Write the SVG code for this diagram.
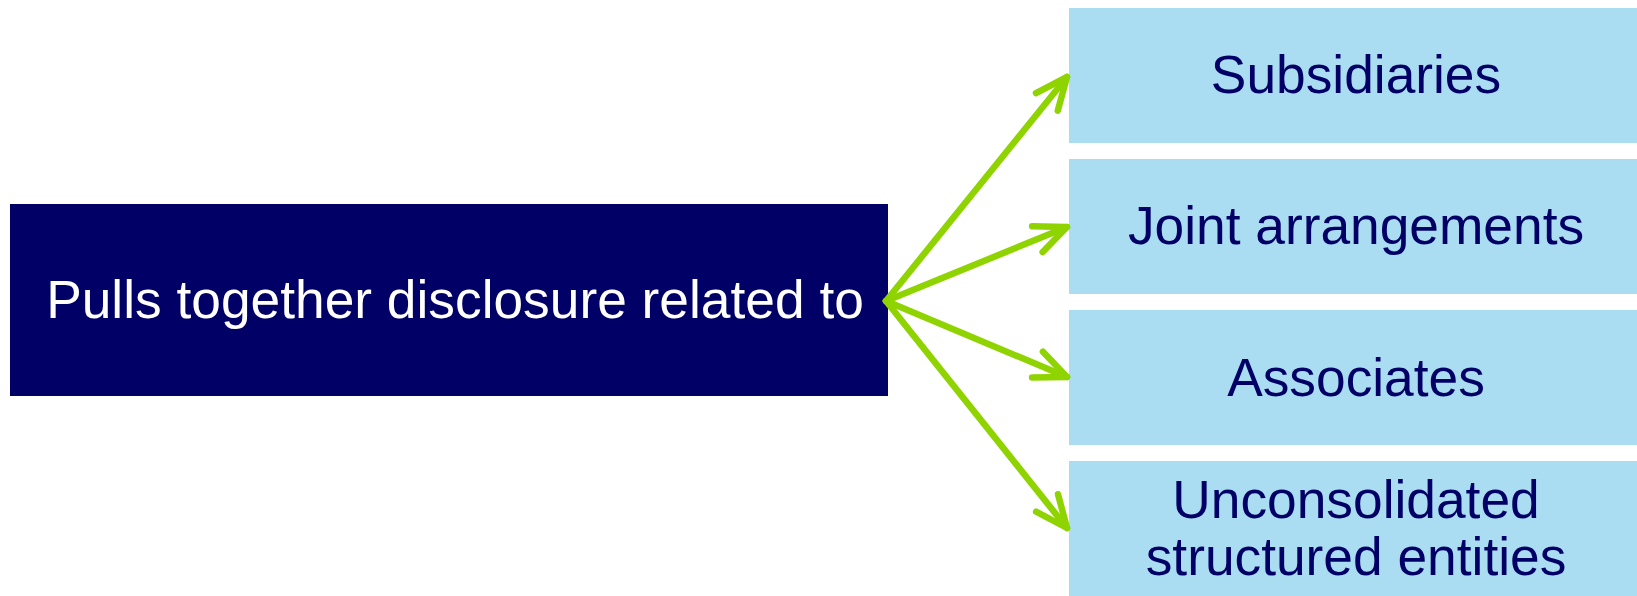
<svg xmlns="http://www.w3.org/2000/svg" width="1637" height="596" viewBox="0 0 1637 596">
<defs>
<style>
.src{fill:#000066}
.dst{fill:#AADDF2}
.t{font-family:"Liberation Sans",Arial,sans-serif;font-size:53.3px;text-anchor:middle}
.tw{fill:#FFFFFF}
.tn{fill:#000066}
.arrow{stroke:#8FD400;stroke-width:6.5;fill:none;stroke-linecap:round}
</style>
<marker id="ah" markerUnits="userSpaceOnUse" markerWidth="50" markerHeight="50" refX="0" refY="0" viewBox="-40 -25 50 50" orient="auto">
<path d="M -32 -14 L 0 0 L -32 14" fill="none" stroke="#8FD400" stroke-width="6.5" stroke-linecap="round" stroke-linejoin="round"/>
</marker>
</defs>
<g id="node-source">
<rect class="src" x="10" y="204" width="878" height="192"/>
<text class="t tw" x="455" y="318">Pulls together disclosure related to</text>
</g>
<g id="node-subsidiaries">
<rect class="dst" x="1069" y="8" width="568" height="135"/>
<text class="t tn" x="1356" y="93">Subsidiaries</text>
</g>
<g id="node-joint">
<rect class="dst" x="1069" y="159" width="568" height="135"/>
<text class="t tn" x="1356" y="244">Joint arrangements</text>
</g>
<g id="node-associates">
<rect class="dst" x="1069" y="310" width="568" height="135"/>
<text class="t tn" x="1356" y="396">Associates</text>
</g>
<g id="node-unconsolidated">
<rect class="dst" x="1069" y="461" width="568" height="135"/>
<text class="t tn" x="1356" y="518">Unconsolidated</text>
<text class="t tn" x="1356" y="575">structured entities</text>
</g>
<g id="connectors">
<line class="arrow" x1="886" y1="301" x2="1067" y2="77" marker-end="url(#ah)"/>
<line class="arrow" x1="886" y1="301" x2="1067" y2="227" marker-end="url(#ah)"/>
<line class="arrow" x1="886" y1="301" x2="1067" y2="377" marker-end="url(#ah)"/>
<line class="arrow" x1="886" y1="301" x2="1067" y2="528" marker-end="url(#ah)"/>
</g>
</svg>
